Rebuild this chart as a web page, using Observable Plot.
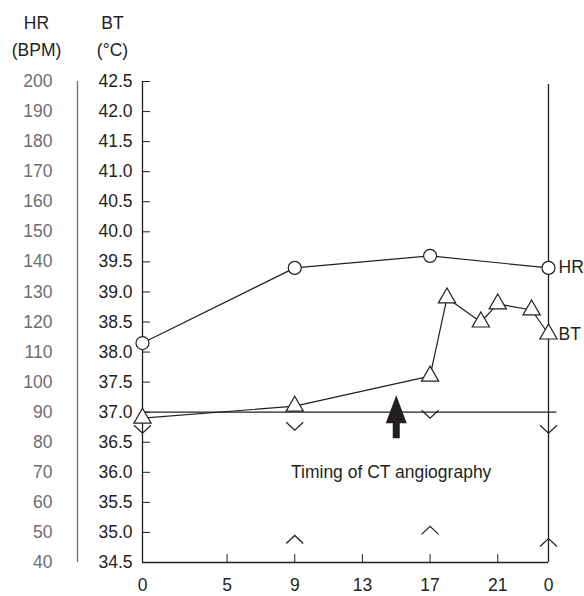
<!DOCTYPE html>
<html>
<head>
<meta charset="utf-8">
<script src="https://cdn.jsdelivr.net/npm/d3@7"></script>
<script src="https://cdn.jsdelivr.net/npm/@observablehq/plot@0.6"></script>
<style>
  body { margin: 0; background: #fff; }
</style>
</head>
<body>
<div id="chart"></div>
<script>
// ---- data ----
const hrHours = [0, 9, 17, 24];
const hrValues = [113, 138, 142, 138];           // heart rate, BPM
const btHours = [0, 9, 17, 18, 20, 21, 23, 24];
const btValues = [36.9, 37.1, 37.6, 38.9, 38.5, 38.8, 38.7, 38.3]; // body temp, °C
const sbpHours = [0, 9, 17, 24];
const sbpValues = [83, 84, 88, 83];              // systolic (v)
const dbpHours = [9, 17, 24];
const dbpValues = [49, 52, 48];                  // diastolic (^)
const btTicks = [34.5, 35.0, 35.5, 36.0, 36.5, 37.0, 37.5, 38.0, 38.5, 39.0, 39.5, 40.0, 40.5, 41.0, 41.5, 42.0, 42.5];
const hrTicks = [40, 50, 60, 70, 80, 90, 100, 110, 120, 130, 140, 150, 160, 170, 180, 190, 200];
const xTicks = [0, 5, 9, 13, 17, 21, 24];
const xTickLabels = ["0", "5", "9", "13", "17", "21", "0"];
const ctHour = 15;
const ctLabel = "Timing of CT angiography";

// HR/BP share the left gray scale: 40..200 maps onto 34.5..42.5 °C
const toBT = v => 34.5 + (v - 40) / 20;

const hr = hrHours.map((h, i) => ({h, v: toBT(hrValues[i])}));
const bt = btHours.map((h, i) => ({h, v: btValues[i]}));
const sbp = sbpHours.map((h, i) => ({h, v: toBT(sbpValues[i])}));
const dbp = dbpHours.map((h, i) => ({h, v: toBT(dbpValues[i])}));

const chevDown = {draw(ctx) { ctx.moveTo(-8.5, -8); ctx.lineTo(0, 0); ctx.lineTo(8.5, -8); }};
const chevUp = {draw(ctx) { ctx.moveTo(-8.5, 8); ctx.lineTo(0, 0); ctx.lineTo(8.5, 8); }};
const arrowSym = {draw(ctx) {
  ctx.moveTo(0, 0); ctx.lineTo(10.5, 28); ctx.lineTo(3.5, 28); ctx.lineTo(3.5, 43);
  ctx.lineTo(-3.5, 43); ctx.lineTo(-3.5, 28); ctx.lineTo(-10.5, 28); ctx.closePath();
}};

const ink = "#231f20";
const gray = "#6d6e71";

const chart = Plot.plot({
  width: 584,
  height: 596,
  marginTop: 81,
  marginBottom: 34,
  marginLeft: 142,
  marginRight: 36,
  x: {domain: [0, 24], label: null},
  y: {domain: [34.5, 42.5], label: null},
  style: {fontFamily: "'Liberation Sans', Arial, sans-serif", fontSize: "17.5px", color: ink, background: "#fff"},
  marks: [
    // frame lines
    Plot.ruleX([0], {y1: 34.5, y2: 42.5, stroke: ink, strokeWidth: 1.3}),
    Plot.ruleX([24], {y1: 34.5, y2: 42.45, stroke: ink, strokeWidth: 1.3}),
    Plot.ruleY([34.5], {x1: 0, x2: 24, stroke: ink, strokeWidth: 1.5}),
    Plot.ruleY([37], {x1: 0, x2: 24.5, stroke: ink, strokeWidth: 1.2}),
    // gray HR bar
    Plot.ruleX([0], {y1: 34.5, y2: 42.5, dx: -65, stroke: gray, strokeWidth: 1.3}),
    // BT axis labels
    Plot.axisY({ticks: btTicks, anchor: "left", label: null, tickSize: 0, tickPadding: 10, tickFormat: d => d.toFixed(1), fill: ink}),
    // inward ticks
    Plot.axisY({ticks: btTicks, anchor: "left", label: null, tickSize: 8, dx: 8, tickFormat: () => "", stroke: ink}),
    // HR axis labels
    Plot.axisY({ticks: hrTicks.map(toBT), anchor: "left", label: null, tickSize: 0, tickPadding: 90, tickFormat: d => String(Math.round(40 + (d - 34.5) * 20)), fill: gray}),
    // x axis
    Plot.axisX({ticks: [5, 9, 13, 17, 21], anchor: "bottom", label: null, tickSize: 8, dy: -8, tickFormat: () => "", stroke: ink}),
    Plot.axisX({ticks: xTicks, anchor: "bottom", label: null, tickSize: 0, tickPadding: 16, tickFormat: d => xTickLabels[xTicks.indexOf(d)], fill: ink}),
    // headers
    Plot.text(["HR\n(BPM)"], {frameAnchor: "top-left", dx: -106, dy: -72, lineAnchor: "top", textAnchor: "middle", lineHeight: 1.55, fill: ink}),
    Plot.text(["BT\n(°C)"], {frameAnchor: "top-left", dx: -30, dy: -72, lineAnchor: "top", textAnchor: "middle", lineHeight: 1.55, fill: ink}),
    // BP chevrons
    Plot.dot(sbp, {x: "h", y: "v", symbol: chevDown, fill: "none", stroke: ink, strokeWidth: 1.2}),
    Plot.dot(dbp, {x: "h", y: "v", symbol: chevUp, fill: "none", stroke: ink, strokeWidth: 1.2}),
    // HR
    Plot.line(hr, {x: "h", y: "v", stroke: ink, strokeWidth: 1.2}),
    Plot.dot(hr, {x: "h", y: "v", r: 6.5, fill: "#fff", stroke: ink, strokeWidth: 1.2}),
    // BT
    Plot.line(bt, {x: "h", y: "v", stroke: ink, strokeWidth: 1.2}),
    Plot.dot(bt, {x: "h", y: "v", symbol: "triangle", r: 6.4, fill: "#fff", stroke: ink, strokeWidth: 1.2}),
    // series labels
    Plot.text([hr[hr.length - 1]], {x: "h", y: "v", text: () => "HR", dx: 10, textAnchor: "start", fill: ink}),
    Plot.text([bt[bt.length - 1]], {x: "h", y: "v", text: () => "BT", dx: 10, textAnchor: "start", fill: ink}),
    // CT arrow and label
    Plot.dot([{h: ctHour, v: 37.28}], {x: "h", y: "v", symbol: arrowSym, fill: ink, stroke: "none"}),
    Plot.text([{h: 14.7, v: 36.0}], {x: "h", y: "v", text: () => ctLabel, textAnchor: "middle", fill: ink})
  ]
});
document.getElementById("chart").appendChild(chart);
</script>
</body>
</html>
